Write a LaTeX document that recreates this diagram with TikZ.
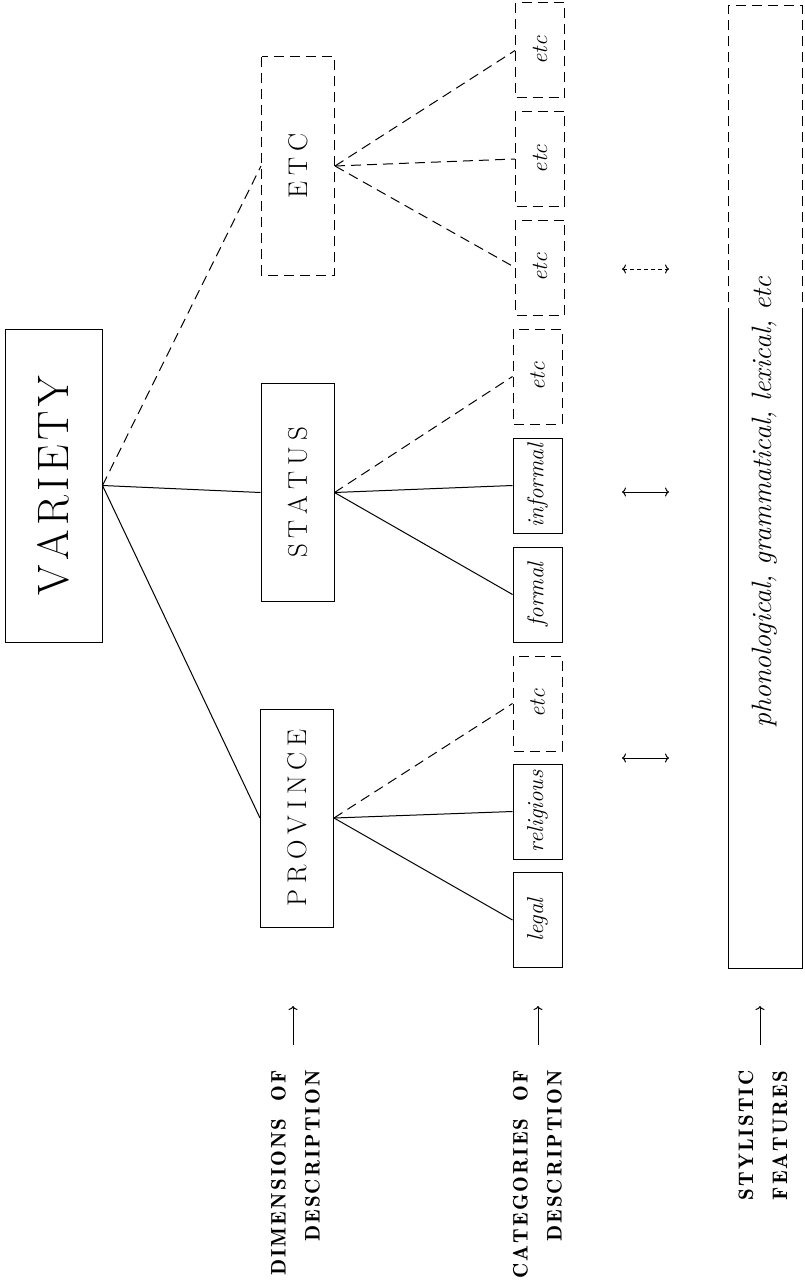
\documentclass[tikz,border=0pt]{standalone}
\usepackage{fontspec}
\usetikzlibrary{arrows.meta}
\newfontfamily\demifont{lmromandemi10-regular.otf}

% letter spaced caps
\ExplSyntaxOn
\NewDocumentCommand \ls { O{0.2em} m }
  { \tl_map_inline:nn {#2} { ##1 \kern #1 } \kern - #1 }
\ExplSyntaxOff

\begin{document}
\begin{tikzpicture}[x=1pt, y=-1pt, line width=1pt, >={To[length=4pt,width=9pt]},
    top/.style = {draw, rotate=90, minimum width=313pt, minimum height=97pt, inner sep=0pt,
        font=\fontsize{44}{50}\selectfont},
    dim/.style = {draw, rotate=90, minimum width=218pt, minimum height=73pt, inner sep=0pt,
        font=\fontsize{27}{30}\selectfont},
    cat/.style = {draw, rotate=90, minimum width=95pt, minimum height=49pt, inner sep=0pt,
        font=\fontsize{23}{26}\selectfont\itshape},
    loose/.style = {dash pattern=on 10pt off 6pt},
    lbl/.style = {rotate=90, anchor=east, inner sep=0pt, align=right,
        font=\demifont\fontsize{21}{34}\selectfont}]
    \useasboundingbox (0,0) rectangle (804,1284);
    % dimensions
    \node[top] (variety) at (53.5,485.5) {\ls[0.1em]{VARIETY}};
    \node[dim] (province) at (297,818) {\ls[0.22em]{PROVINCE}};
    \node[dim] (status) at (297.5,492.5) {\ls[0.22em]{STATUS}};
    \node[dim, loose] (etc) at (298,166) {\ls[0.22em]{ETC}};
    % categories
    \node[cat] (legal) at (537.5,920) {legal};
    \node[cat] (religious) at (537.5,811.5) {religious};
    \node[cat, loose] (etcp) at (537.5,703.5) {etc};
    \node[cat] (formal) at (537.5,594.5) {formal};
    \node[cat] (informal) at (537.5,485.5) {informal};
    \node[cat, loose] (etcs) at (537.5,376.5) {etc};
    \node[cat, loose] (etca) at (540,267.5) {etc};
    \node[cat, loose] (etcb) at (540,159) {etc};
    \node[cat, loose] (etcc) at (540,50.5) {etc};
    % features
    \node[rotate=90, font=\fontsize{28}{30}\selectfont\itshape] (features) at (765,502)
        {phonological, grammatical, lexical, etc};
    \draw (728,318) -- (728,968) -- (802,968) -- (802,318);
    \draw[loose] (728,318) -- (728,6) -- (802,6) -- (802,318);
    % tree
    \draw (variety.south) -- (province.north);
    \draw (variety.south) -- (status.north);
    \draw[loose] (variety.south) -- (etc.north);
    \draw (province.south) -- (legal.north);
    \draw (province.south) -- (religious.north);
    \draw[loose] (province.south) -- (etcp.north);
    \draw (status.south) -- (formal.north);
    \draw (status.south) -- (informal.north);
    \draw[loose] (status.south) -- (etcs.north);
    \draw[loose] (etc.south) -- (etca.north);
    \draw[loose] (etc.south) -- (etcb.north);
    \draw[loose] (etc.south) -- (etcc.north);
    % correspondences
    \coordinate (p1) at (622,758);
    \coordinate (p2) at (669,758);
    \coordinate (s1) at (622,492);
    \coordinate (s2) at (669,492);
    \coordinate (e1) at (622,269);
    \coordinate (e2) at (669,269);
    \draw[<->] (p1) -- (p2);
    \draw[<->] (s1) -- (s2);
    \draw[<->, dash pattern=on 4pt off 3pt] (e1) -- (e2);
    % side labels
    \node[lbl] (dimlbl) at (295.5,1070) {\ls[0.1em]{DIMENSIONS}\hspace{0.8em}\ls[0.1em]{OF}\\\ls[0.1em]{DESCRIPTION}};
    \node[lbl] (catlbl) at (537.5,1070) {\ls[0.1em]{CATEGORIES}\hspace{0.8em}\ls[0.1em]{OF}\\\ls[0.1em]{DESCRIPTION}};
    \node[lbl] (stylbl) at (763,1070) {\ls[0.1em]{STYLISTIC}\\\ls[0.1em]{FEATURES}};
    \coordinate (d1) at (293,1045);
    \coordinate (d2) at (293,1006);
    \coordinate (c1) at (538,1045);
    \coordinate (c2) at (538,1006);
    \coordinate (f1) at (760,1045);
    \coordinate (f2) at (760,1006);
    \draw[->] (d1) -- (d2);
    \draw[->] (c1) -- (c2);
    \draw[->] (f1) -- (f2);
\end{tikzpicture}
\end{document}
